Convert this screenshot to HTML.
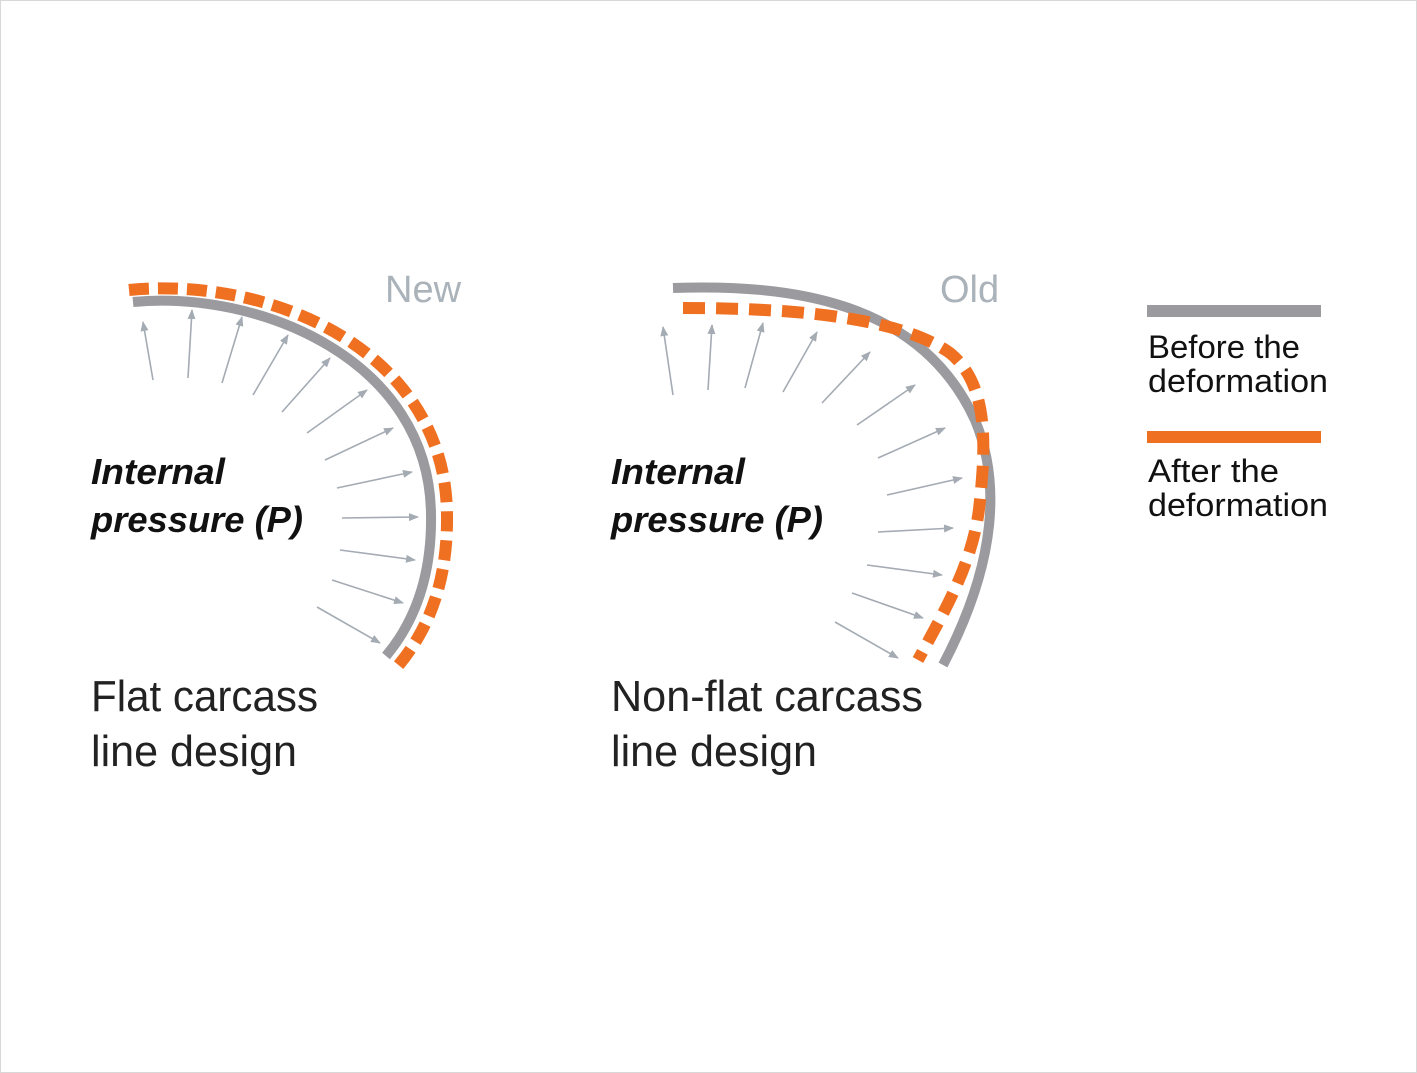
<!DOCTYPE html>
<html><head><meta charset="utf-8"><style>
html,body{margin:0;padding:0;background:#fff}
svg{display:block}
text{font-family:"Liberation Sans",sans-serif}
</style></head><body>
<svg width="1417" height="1073" viewBox="0 0 1417 1073" xmlns="http://www.w3.org/2000/svg">
<defs>
<marker id="ah" markerWidth="10" markerHeight="8" refX="9" refY="4" orient="auto" markerUnits="userSpaceOnUse">
<path d="M0,0 L10,4 L0,8 Z" fill="#a4abb3"/>
</marker>
</defs>
<rect x="0.5" y="0.5" width="1416" height="1072" fill="#fff" stroke="#d8d8d8"/>
<!-- Left diagram -->
<path d="M133,302 C260,290 430,360 431,515 C432,580 412,625 386,656" fill="none" stroke="#9a9a9f" stroke-width="10"/>
<path d="M129,290 C270,276 446,350 447,515 C448,592 422,637 398,666" fill="none" stroke="#f07022" stroke-width="12" stroke-dasharray="20,9"/>
<g stroke="#a4abb3" stroke-width="1.6" marker-end="url(#ah)">
<line x1="153" y1="380" x2="143" y2="322"/>
<line x1="188" y1="378" x2="192" y2="310"/>
<line x1="222" y1="383" x2="242" y2="317"/>
<line x1="253" y1="395" x2="288" y2="335"/>
<line x1="282" y1="412" x2="330" y2="358"/>
<line x1="307" y1="433" x2="367" y2="390"/>
<line x1="325" y1="460" x2="393" y2="428"/>
<line x1="337" y1="488" x2="412" y2="472"/>
<line x1="342" y1="518" x2="418" y2="517"/>
<line x1="340" y1="550" x2="415" y2="560"/>
<line x1="332" y1="580" x2="403" y2="603"/>
<line x1="317" y1="607" x2="380" y2="643"/>
</g>
<text x="385" y="302" font-size="38" fill="#aab2ba">New</text>
<text x="91" y="484" font-size="36" font-style="italic" font-weight="bold" fill="#111" textLength="134" lengthAdjust="spacingAndGlyphs">Internal</text>
<text x="91" y="532" font-size="36" font-style="italic" font-weight="bold" fill="#111" textLength="212" lengthAdjust="spacingAndGlyphs">pressure (P)</text>
<text x="91" y="711" font-size="44" fill="#222" textLength="227" lengthAdjust="spacingAndGlyphs">Flat carcass</text>
<text x="91" y="766" font-size="44" fill="#222" textLength="206" lengthAdjust="spacingAndGlyphs">line design</text>
<!-- Right diagram -->
<path d="M673,288 C790,284 920,300 975,420 C1000,480 998,560 943,665" fill="none" stroke="#9a9a9f" stroke-width="10"/>
<path d="M683,308 C800,308 900,318 950,353 C990,385 985,450 980,500 C975,560 945,610 918,660" fill="none" stroke="#f07022" stroke-width="12" stroke-dasharray="22,11"/>
<g stroke="#a4abb3" stroke-width="1.6" marker-end="url(#ah)">
<line x1="673" y1="395" x2="663" y2="327"/>
<line x1="708" y1="390" x2="712" y2="325"/>
<line x1="745" y1="388" x2="763" y2="323"/>
<line x1="783" y1="392" x2="817" y2="332"/>
<line x1="822" y1="403" x2="870" y2="352"/>
<line x1="857" y1="425" x2="915" y2="385"/>
<line x1="878" y1="458" x2="945" y2="428"/>
<line x1="887" y1="495" x2="962" y2="478"/>
<line x1="878" y1="532" x2="953" y2="528"/>
<line x1="867" y1="565" x2="942" y2="575"/>
<line x1="852" y1="593" x2="923" y2="618"/>
<line x1="835" y1="622" x2="898" y2="658"/>
</g>
<text x="940" y="302" font-size="38" fill="#aab2ba">Old</text>
<text x="611" y="484" font-size="36" font-style="italic" font-weight="bold" fill="#111" textLength="134" lengthAdjust="spacingAndGlyphs">Internal</text>
<text x="611" y="532" font-size="36" font-style="italic" font-weight="bold" fill="#111" textLength="212" lengthAdjust="spacingAndGlyphs">pressure (P)</text>
<text x="611" y="711" font-size="44" fill="#222" textLength="312" lengthAdjust="spacingAndGlyphs">Non-flat carcass</text>
<text x="611" y="766" font-size="44" fill="#222" textLength="206" lengthAdjust="spacingAndGlyphs">line design</text>
<!-- Legend -->
<rect x="1147" y="305" width="174" height="12" fill="#9a9a9f"/>
<text x="1148" y="358" font-size="32" fill="#111" textLength="152" lengthAdjust="spacingAndGlyphs">Before the</text>
<text x="1148" y="392" font-size="32" fill="#111" textLength="180" lengthAdjust="spacingAndGlyphs">deformation</text>
<rect x="1147" y="431" width="174" height="12" fill="#f07022"/>
<text x="1148" y="482" font-size="32" fill="#111" textLength="131" lengthAdjust="spacingAndGlyphs">After the</text>
<text x="1148" y="516" font-size="32" fill="#111" textLength="180" lengthAdjust="spacingAndGlyphs">deformation</text>
</svg>
</body></html>
